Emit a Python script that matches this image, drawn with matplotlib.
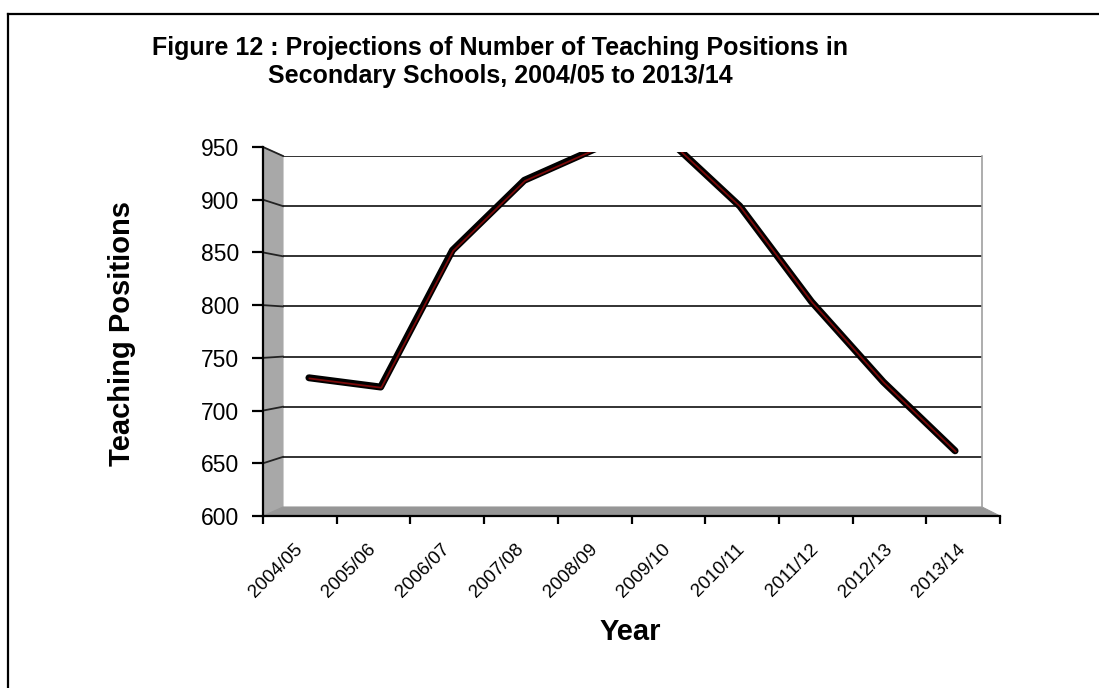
import matplotlib
matplotlib.use("Agg")
import matplotlib.pyplot as plt
from matplotlib.patches import Polygon
from matplotlib.lines import Line2D
from matplotlib.transforms import ScaledTranslation

plt.rcParams["font.family"] = ["Liberation Sans", "DejaVu Sans"]

# data (values above 950 are clipped in the original)
years = ["2004/05", "2005/06", "2006/07", "2007/08", "2008/09",
         "2009/10", "2010/11", "2011/12", "2012/13", "2013/14"]
positions = [730, 721, 854, 922, 953, 962, 897, 804, 726, 659]
y_ticks = [600, 650, 700, 750, 800, 850, 900, 950]
y_min, y_max = 600, 950

W, H = 1099, 688
fig = plt.figure(figsize=(W / 100, H / 100), dpi=100)


def box(l, t, r, b):
    return [l / W, 1 - b / H, (r - l) / W, (b - t) / H]


def fp(x, y):
    return (x / W, 1 - y / H)


# pixel geometry of the pseudo-3D plot area: front plane, back wall, mid depth
FL, FT, FR, FB = 263, 147, 1000, 516
BL, BT, BR, BB = 283, 156, 982, 507
ML, MT, MR, MB = 273, 151.5, 991, 511.5

# outer frame
fig.add_artist(Line2D([8 / W, 1], [1 - 14 / H] * 2, color="black", lw=1.6,
                      transform=fig.transFigure))
fig.add_artist(Line2D([8 / W] * 2, [1 - 14 / H, 0], color="black", lw=1.6,
                      transform=fig.transFigure))

# side wall and floor
fig.add_artist(Polygon([fp(FL, FT), fp(BL, BT), fp(BL, BB), fp(FL, FB)],
                       closed=True, fc="#a8a8a8", ec="#a8a8a8", lw=0.8,
                       transform=fig.transFigure, zorder=1))
fig.add_artist(Polygon([fp(FL, FB), fp(BL, BB), fp(BR, BB), fp(FR, FB)],
                       closed=True, fc="#969696", ec="#969696", lw=0.8,
                       transform=fig.transFigure, zorder=1))

# back wall with gridlines
back = fig.add_axes(box(BL, BT, BR, BB), zorder=2)
back.set_xlim(0, len(years))
back.set_ylim(y_min, y_max)
back.set_facecolor("none")
for s in back.spines.values():
    s.set_visible(False)
back.spines["right"].set_visible(True)
back.spines["right"].set_color("#a0a0a0")
back.spines["right"].set_linewidth(1.2)
back.set_xticks([])
back.set_yticks([])
for v in y_ticks[1:]:
    back.axhline(v, color="#222222", lw=1.3, zorder=1)

# connectors from the front ticks to the back gridlines on the side wall
for v in y_ticks[1:]:
    f = (v - y_min) / (y_max - y_min)
    yf = FB - f * (FB - FT)
    yb = BB - f * (BB - BT)
    fig.add_artist(Line2D([FL / W, BL / W], [1 - yf / H, 1 - yb / H],
                          color="#222222", lw=1.3, transform=fig.transFigure,
                          zorder=3))

# data line at mid depth
mid = fig.add_axes(box(ML, MT, MR, MB), zorder=4)
mid.set_xlim(0, len(years))
mid.set_ylim(y_min, y_max)
mid.axis("off")
xs = [i + 0.5 for i in range(len(years))]
mid.plot(xs, positions, color="black", lw=5, solid_capstyle="round",
         solid_joinstyle="round")
mid.plot(xs, positions, color="#7a0a0a", lw=1.3, solid_joinstyle="round",
         transform=mid.transData + ScaledTranslation(0.6 / 100, -0.7 / 100,
                                                     fig.dpi_scale_trans))

# front plane: axes, ticks and labels
front = fig.add_axes(box(FL, FT, FR, FB), zorder=5)
front.set_facecolor("none")
front.set_xlim(0, len(years))
front.set_ylim(y_min, y_max)
for s in ("top", "right"):
    front.spines[s].set_visible(False)
front.spines["left"].set_linewidth(1.6)
front.spines["bottom"].set_linewidth(1.6)
front.set_yticks(y_ticks)
front.set_yticklabels([str(v) for v in y_ticks], fontsize=16.5)
front.tick_params(axis="y", length=8, width=1.6, pad=9)
front.set_xticks(range(len(years) + 1))
front.set_xticklabels([])
front.tick_params(axis="x", which="major", length=6, width=1.6)
front.set_xticks(xs, minor=True)
front.set_xticklabels(years, minor=True, rotation=45, ha="right",
                      va="center", rotation_mode="anchor", fontsize=13.5)
front.tick_params(axis="x", which="minor", length=0, pad=22)

front.set_ylabel("Teaching Positions", fontsize=21, fontweight="bold",
                 va="center")
front.yaxis.set_label_coords((122 - FL) / (FR - FL), (FB - 333) / (FB - FT))
front.set_xlabel("Year", fontsize=21, fontweight="bold", va="center")
front.xaxis.set_label_coords((630 - FL) / (FR - FL), (FB - 632) / (FB - FT))

fig.text(500 / W, 1 - 48 / H,
         "Figure 12 : Projections of Number of Teaching Positions in",
         ha="center", va="center", fontsize=18, fontweight="bold")
fig.text(500 / W, 1 - 76 / H,
         "Secondary Schools, 2004/05 to 2013/14",
         ha="center", va="center", fontsize=18, fontweight="bold")

fig.savefig("out.png", dpi=100)
